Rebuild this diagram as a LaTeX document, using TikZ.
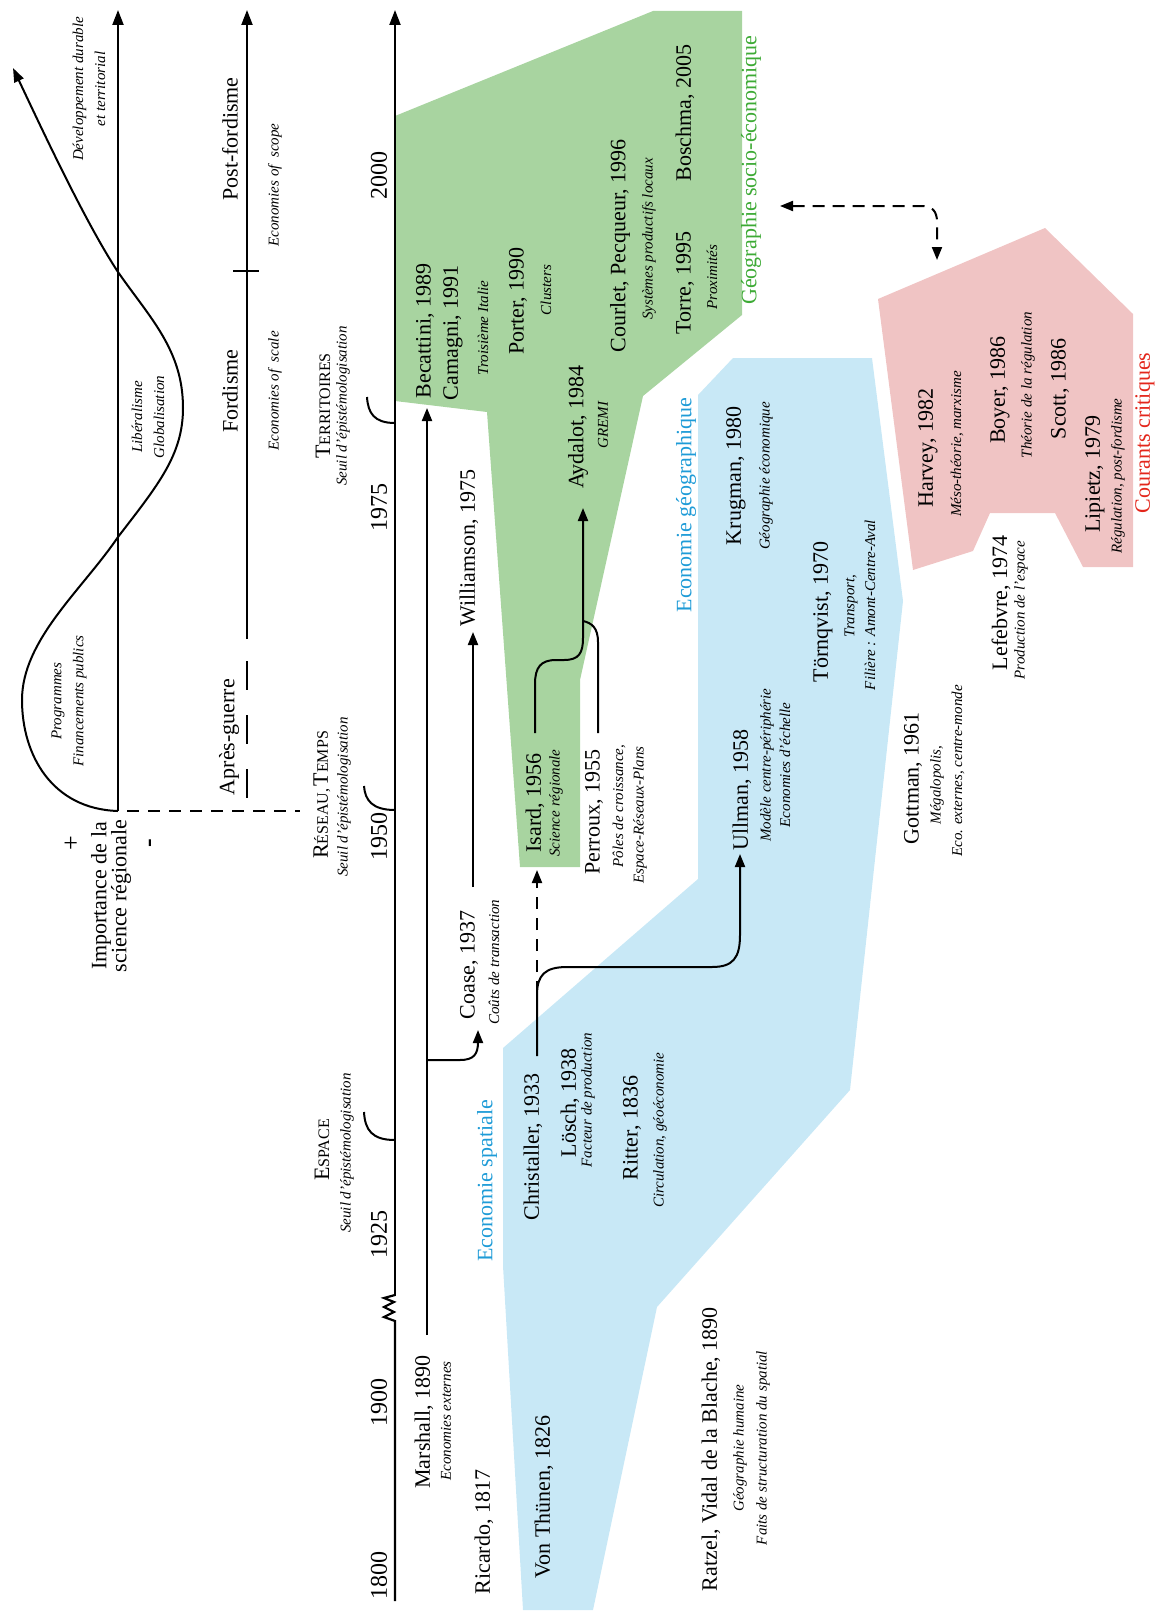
\documentclass[tikz,border=0pt]{standalone}
\usepackage{fontspec}
\setmainfont{Liberation Serif}
\usetikzlibrary{arrows.meta}
\definecolor{gfill}{HTML}{A8D4A0}
\definecolor{bfill}{HTML}{C8E8F6}
\definecolor{pfill}{HTML}{F0C4C4}
\definecolor{btext}{HTML}{1E9BD7}
\definecolor{gtext}{HTML}{3DAA35}
\definecolor{rtext}{HTML}{E3261B}
\newcommand\fakesc[2]{{\fontsize{22}{24}\selectfont #1}{\fontsize{16}{18}\selectfont #2}}
\begin{document}
\begin{tikzpicture}[x=1pt,y=-1pt,
  tx/.style={rotate=90,inner sep=0pt,font=\fontsize{22}{20}\selectfont,align=center},
  it/.style={rotate=90,inner sep=0pt,font=\fontsize{15}{22}\selectfont\itshape,align=center},
  yr/.style={rotate=90,inner sep=0pt,font=\fontsize{24}{26}\selectfont},
  ttl/.style={rotate=90,inner sep=0pt,font=\fontsize{22}{24}\selectfont},
  ax/.style={line width=2.2pt,-{Triangle[length=15pt,width=11pt]}},
  arr/.style={line width=2pt,-{Triangle[length=13pt,width=10pt]}},
  ln/.style={line width=2pt},
  dsh/.style={line width=2pt,dash pattern=on 12pt off 9pt}]
\useasboundingbox (0,0) rectangle (1160,1619);

% ---------- coloured areas ----------
\fill[bfill] (698,395) -- (733,358) -- (872,358) -- (903,601) -- (850,1090) -- (657,1307)
  -- (593,1610) -- (523,1610) -- (503,1266) -- (503,1048) -- (698,879) -- cycle;
\fill[gfill] (395,116) -- (653,11) -- (742,11) -- (742,315) -- (643,396) -- (580,680)
  -- (580,867) -- (520,867) -- (487,412) -- (395,401) -- cycle;
\fill[pfill] (878,299) -- (1045,228) -- (1133,314) -- (1133,567) -- (1083,567) -- (1055,513)
  -- (990,513) -- (973,551) -- (913,570) -- cycle;

% ---------- axes ----------
\coordinate (mb) at (395,1601);
\coordinate (mt) at (395,10);
\draw[line width=2.2pt] (mb) -- (395,1321) -- (384,1317) -- (394,1312) -- (384,1307) -- (394,1302) -- (384,1298) -- (395,1295);
\draw[ax] (395,1296) -- (mt);
\draw[ax] (247,639) -- (247,10);
\draw[line width=2.2pt] (247,661) -- (247,690) (247,715) -- (247,744) (247,769) -- (247,798);
\draw[line width=2pt] (233,271) -- (259,271);
\draw[ax] (118,811) -- (118,10);
\draw[dsh] (127,811) -- (300,811);

% threshold brackets
\draw[ln] (395,1140) .. controls (372,1140) and (365,1130) .. (364,1112);
\draw[ln] (395,810) .. controls (372,810) and (365,800) .. (364,786);
\draw[ln] (395,423) .. controls (374,423) and (368,413) .. (367,397);

% curve
\draw[line width=2pt,-{Triangle[length=14pt,width=10pt]}] (118,811)
  .. controls (52,809) and (22,755) .. (22,700)
  .. controls (22,640) and (82,590) .. (118,537)
  .. controls (158,485) and (183,455) .. (183,408)
  .. controls (183,350) and (150,318) .. (118,272)
  .. controls (85,222) and (40,125) .. (13,68);

% ---------- left labels ----------
\node[it] (dev) at (89,89) {Développement durable\\et territorial};
\node[it] (prog) at (69,701) {Programmes\\Financements publics};
\node[it] (lib) at (148,417) {Libéralisme\\Globalisation};
\node[tx] (imp) at (111,896) {Importance de la\\science régionale};
\node[rotate=90,inner sep=0pt,font=\fontsize{26}{26}\selectfont] (plus) at (72,843) {+};
\node[rotate=90,inner sep=0pt,font=\fontsize{26}{26}\selectfont\bfseries] (minus) at (153,843) {-};

\node[ttl] (apres) at (229,737) {Après-guerre};
\node[ttl] (ford) at (230,391) {Fordisme};
\node[ttl] (postf) at (230,139) {Post-fordisme};
\node[it] (scale) at (275,391) {Economies of\ \ scale};
\node[it] (scope) at (275,185) {Economies of\ \ scope};

\node[rotate=90,inner sep=0pt] (terr) at (323,406) {\fakesc{T}{ERRITOIRES}};
\node[it] (terrs) at (343,406) {Seuil d'épistémologisation};
\node[rotate=90,inner sep=0pt] (res) at (322,795) {\fakesc{R}{ÉSEAU,} \fakesc{T}{EMPS}};
\node[it] (ress) at (344,797) {Seuil d'épistémologisation};
\node[rotate=90,inner sep=0pt] (esp) at (322,1150) {\fakesc{E}{SPACE}};
\node[it] (esps) at (347,1153) {Seuil d'épistémologisation};

\node[yr] (y1800) at (379,1575) {1800};
\node[yr] (y1900) at (379,1402) {1900};
\node[yr] (y1925) at (379,1234) {1925};
\node[yr] (y1950) at (379,836) {1950};
\node[yr] (y1975) at (379,507) {1975};
\node[yr] (y2000) at (379,175) {2000};

% ---------- events ----------
\node[tx] (marshall) at (424,1422) {Marshall, 1890};
\node[it] (marshalls) at (446,1421) {Economies externes};
\node[tx] (ricardo) at (484,1532) {Ricardo, 1817};
\node[tx] (thunen) at (544,1497) {Von Thünen, 1826};
\node[tx] (ratzel) at (711,1449) {Ratzel, Vidal de la Blache, 1890};
\node[it] (ratzels1) at (740,1448) {Géographie humaine};
\node[it] (ratzels2) at (763,1448) {Faits de structuration du spatial};

\node[ttl,text=btext] (espat) at (487,1181) {Economie spatiale};
\node[tx] (christ) at (533,1147) {Christaller, 1933};
\node[tx] (losch) at (570,1103) {Lösch, 1938};
\node[it] (loschs) at (588,1100) {Facteur de production};
\node[tx] (ritter) at (632,1128) {Ritter, 1836};
\node[it] (ritters) at (660,1130) {Circulation, géoéconomie};

\node[tx] (coase) at (469,965) {Coase, 1937};
\node[it] (coases) at (494,962) {Coûts de transaction};
\node[tx] (will) at (469,548) {Williamson, 1975};

\node[tx] (isard) at (535,803) {Isard, 1956};
\node[it] (isards) at (556,803) {Science régionale};
\node[tx] (perroux) at (594,812) {Perroux, 1955};
\node[it] (perrouxs1) at (619,806) {Pôles de croissance,};
\node[it] (perrouxs2) at (640,815) {Espace-Réseaux-Plans};

\node[tx] (ullman) at (742,790) {Ullman, 1958};
\node[it] (ullmans1) at (767,765) {Modèle centre-périphérie};
\node[it] (ullmans2) at (785,765) {Economies d'échelle};
\node[tx] (torn) at (823,612) {Törnqvist, 1970};
\node[it] (torns1) at (851,606) {Transport,};
\node[it] (torns2) at (870,605) {Filière : Amont-Centre-Aval};
\node[tx] (gott) at (913,778) {Gottman, 1961};
\node[it] (gotts1) at (937,785) {Mégalopolis,};
\node[it] (gotts2) at (958,771) {Eco. externes, centre-monde};
\node[tx] (lef) at (1001,603) {Lefebvre, 1974};
\node[it] (lefs) at (1021,610) {Production de l'espace};

\node[ttl,text=btext] (egeo) at (686,505) {Economie géographique};
\node[tx] (krug) at (736,476) {Krugman, 1980};
\node[it] (krugs) at (766,476) {Géographie économique};

\node[tx] (ayd) at (578,427) {Aydalot, 1984};
\node[it] (ayds) at (603,425) {GREMI};
\node[tx] (becat) at (425,331) {Becattini, 1989};
\node[tx] (camag) at (453,333) {Camagni, 1991};
\node[it] (camags) at (483,328) {Troisième Italie};
\node[tx] (porter) at (518,301) {Porter, 1990};
\node[it] (porters) at (546,290) {Clusters};
\node[tx] (courlet) at (620,246) {Courlet, Pecqueur, 1996};
\node[it] (courlets) at (649,239) {Systèmes productifs locaux};
\node[tx] (torre) at (685,283) {Torre, 1995};
\node[it] (torres) at (712,277) {Proximités};
\node[tx] (bosch) at (685,113) {Boschma, 2005};
\node[ttl,text=gtext] (gsoc) at (751,170) {Géographie socio-économique};

\node[tx] (harvey) at (928,448) {Harvey, 1982};
\node[it] (harveys) at (957,444) {Méso-théorie, marxisme};
\node[tx] (boyer) at (1000,390) {Boyer, 1986};
\node[it] (boyers) at (1028,385) {Théorie de la régulation};
\node[tx] (scott) at (1060,389) {Scott, 1986};
\node[tx] (lip) at (1095,474) {Lipietz, 1979};
\node[it] (lips) at (1118,476) {Régulation, post-fordisme};
\node[ttl,text=rtext] (courants) at (1145,433) {Courants critiques};

% ---------- connectors ----------
\coordinate (mA) at (427,1335);
\coordinate (mB) at (427,1060);
\draw[arr] (mA) -- (427,408);
\draw[arr] (mB) -- (460,1060) .. controls (474,1060) and (478,1054) .. (478,1042) -- (478,1030);
\draw[arr] (473,887) -- (473,632);

\coordinate (cA) at (537,1056);
\draw[arr] (cA) -- (537,995) .. controls (537,975) and (545,967) .. (567,967) -- (712,967)
  .. controls (733,967) and (740,958) .. (740,935) -- (740,854);
\draw[dsh,-{Triangle[length=13pt,width=10pt]}] (537,993) -- (537,870);

\coordinate (iA) at (535,733);
\draw[arr] (iA) -- (535,684) .. controls (535,667) and (541,660) .. (556,660) -- (564,660)
  .. controls (579,660) and (583,653) .. (583,638) -- (583,508);
\coordinate (pA) at (598,733);
\draw[ln] (pA) -- (598,642) .. controls (598,628) and (592,623) .. (583,621);

\draw[line width=2pt,dash pattern=on 12pt off 8pt,{Triangle[length=13pt,width=10pt]}-{Triangle[length=13pt,width=10pt]}]
  (780,206) -- (922,206) .. controls (932,206) and (937,211) .. (937,222) -- (937,260);
\end{tikzpicture}
\end{document}
